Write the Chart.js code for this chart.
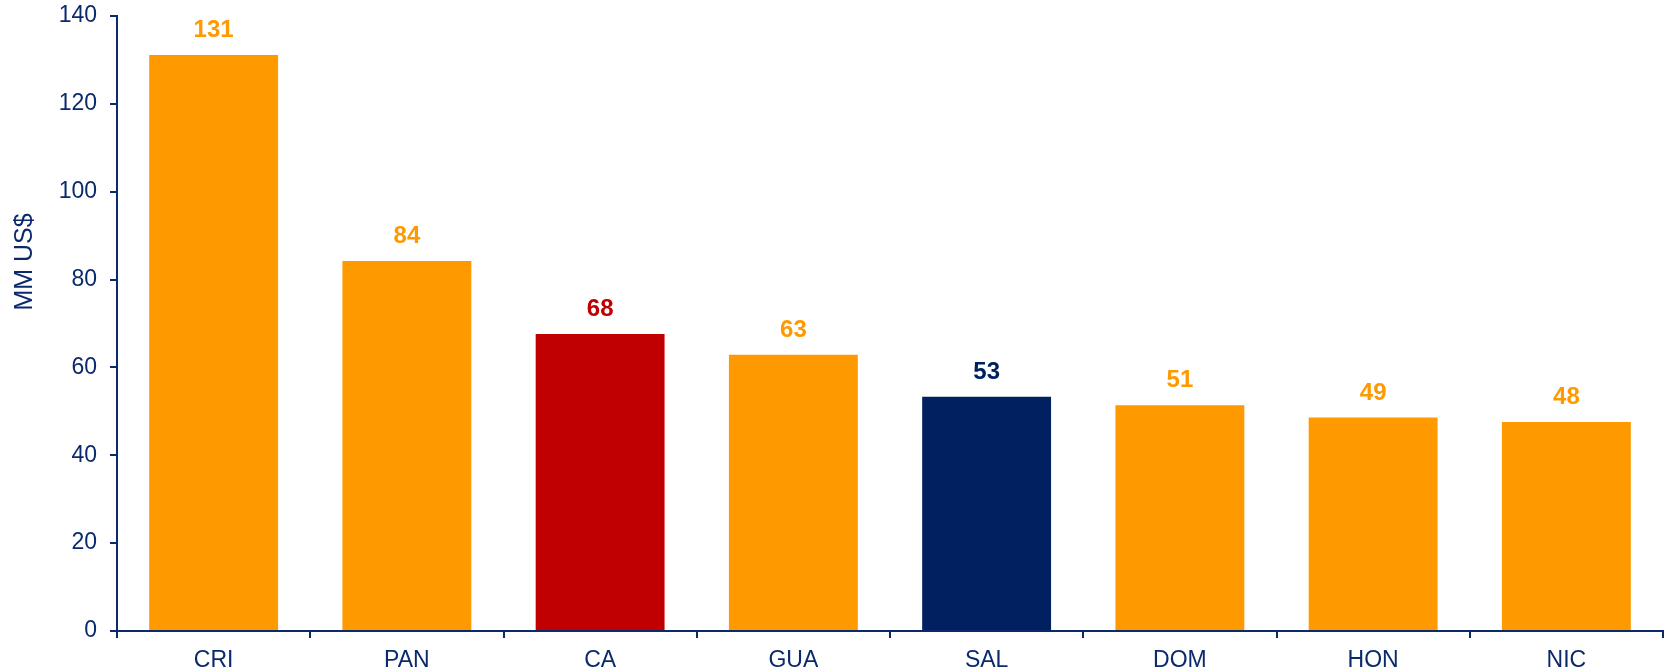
<!DOCTYPE html>
<html>
<head>
<meta charset="utf-8">
<script src="https://cdn.jsdelivr.net/npm/chart.js"></script>
<style>
  html, body { margin: 0; padding: 0; background: #fff; }
  #wrap { width: 1669px; height: 672px; }
</style>
</head>
<body>
<div id="wrap"><canvas id="chart" width="1669" height="672"></canvas></div>
<script>
// values (MM US$)
const categories = ['CRI', 'PAN', 'CA', 'GUA', 'SAL', 'DOM', 'HON', 'NIC'];
const values = [131.1, 84.2, 67.6, 62.9, 53.3, 51.4, 48.6, 47.6];
const barColors = ['#FF9900', '#FF9900', '#C00000', '#FF9900', '#002060', '#FF9900', '#FF9900', '#FF9900'];
const yTicks = [0, 20, 40, 60, 80, 100, 120, 140];
const yTitle = 'MM US$';

const NAVY = '#0B2A6B';
const FONT = "'Liberation Sans', Arial, sans-serif";

// rounded value above each bar, in the bar's colour
const valueLabels = {
  id: 'valueLabels',
  afterDatasetsDraw(chart) {
    const ctx = chart.ctx;
    const meta = chart.getDatasetMeta(0);
    ctx.save();
    ctx.font = 'bold 24px ' + FONT;
    ctx.textAlign = 'center';
    ctx.textBaseline = 'alphabetic';
    meta.data.forEach((bar, i) => {
      ctx.fillStyle = barColors[i];
      ctx.fillText(String(Math.round(values[i])), bar.x, bar.y - 18);
    });
    ctx.restore();
  }
};

// y title sits above the middle of the axis in the original, so draw it by hand
const axisTitle = {
  id: 'axisTitle',
  afterDraw(chart) {
    const ctx = chart.ctx;
    const y = chart.scales.y;
    ctx.save();
    ctx.translate(25, y.getPixelForValue(84));
    ctx.rotate(-Math.PI / 2);
    ctx.font = '25px ' + FONT;
    ctx.fillStyle = NAVY;
    ctx.textAlign = 'center';
    ctx.textBaseline = 'middle';
    ctx.fillText(yTitle, 0, 0);
    ctx.restore();
  }
};

new Chart(document.getElementById('chart').getContext('2d'), {
  type: 'bar',
  data: {
    labels: categories,
    datasets: [{
      data: values,
      backgroundColor: barColors,
      borderWidth: 0,
      categoryPercentage: 1,
      barPercentage: 0.667
    }]
  },
  options: {
    responsive: false,
    animation: false,
    devicePixelRatio: 1,
    layout: { padding: { left: 0, right: 6, top: 16, bottom: 0 } },
    plugins: {
      legend: { display: false },
      tooltip: { enabled: false }
    },
    scales: {
      x: {
        offset: true,
        afterFit(scale) { scale.height = 41; },
        grid: {
          offset: true,
          drawOnChartArea: false,
          drawTicks: true,
          tickLength: 7,
          color: NAVY,
          lineWidth: 2
        },
        border: { display: true, color: NAVY, width: 2 },
        ticks: { color: NAVY, font: { family: FONT, size: 23 }, padding: 9, maxRotation: 0 }
      },
      y: {
        min: 0,
        max: 140,
        afterFit(scale) {
          scale.width = 117;
          scale.paddingTop = 0;
          scale.paddingBottom = 0;
        },
        afterBuildTicks(scale) { scale.ticks = yTicks.map(v => ({ value: v })); },
        grid: {
          drawOnChartArea: false,
          drawTicks: true,
          tickLength: 7,
          color: NAVY,
          lineWidth: 2
        },
        border: { display: true, color: NAVY, width: 2 },
        ticks: { color: NAVY, font: { family: FONT, size: 23 }, padding: 13 }
      }
    }
  },
  plugins: [valueLabels, axisTitle]
});
</script>
</body>
</html>
